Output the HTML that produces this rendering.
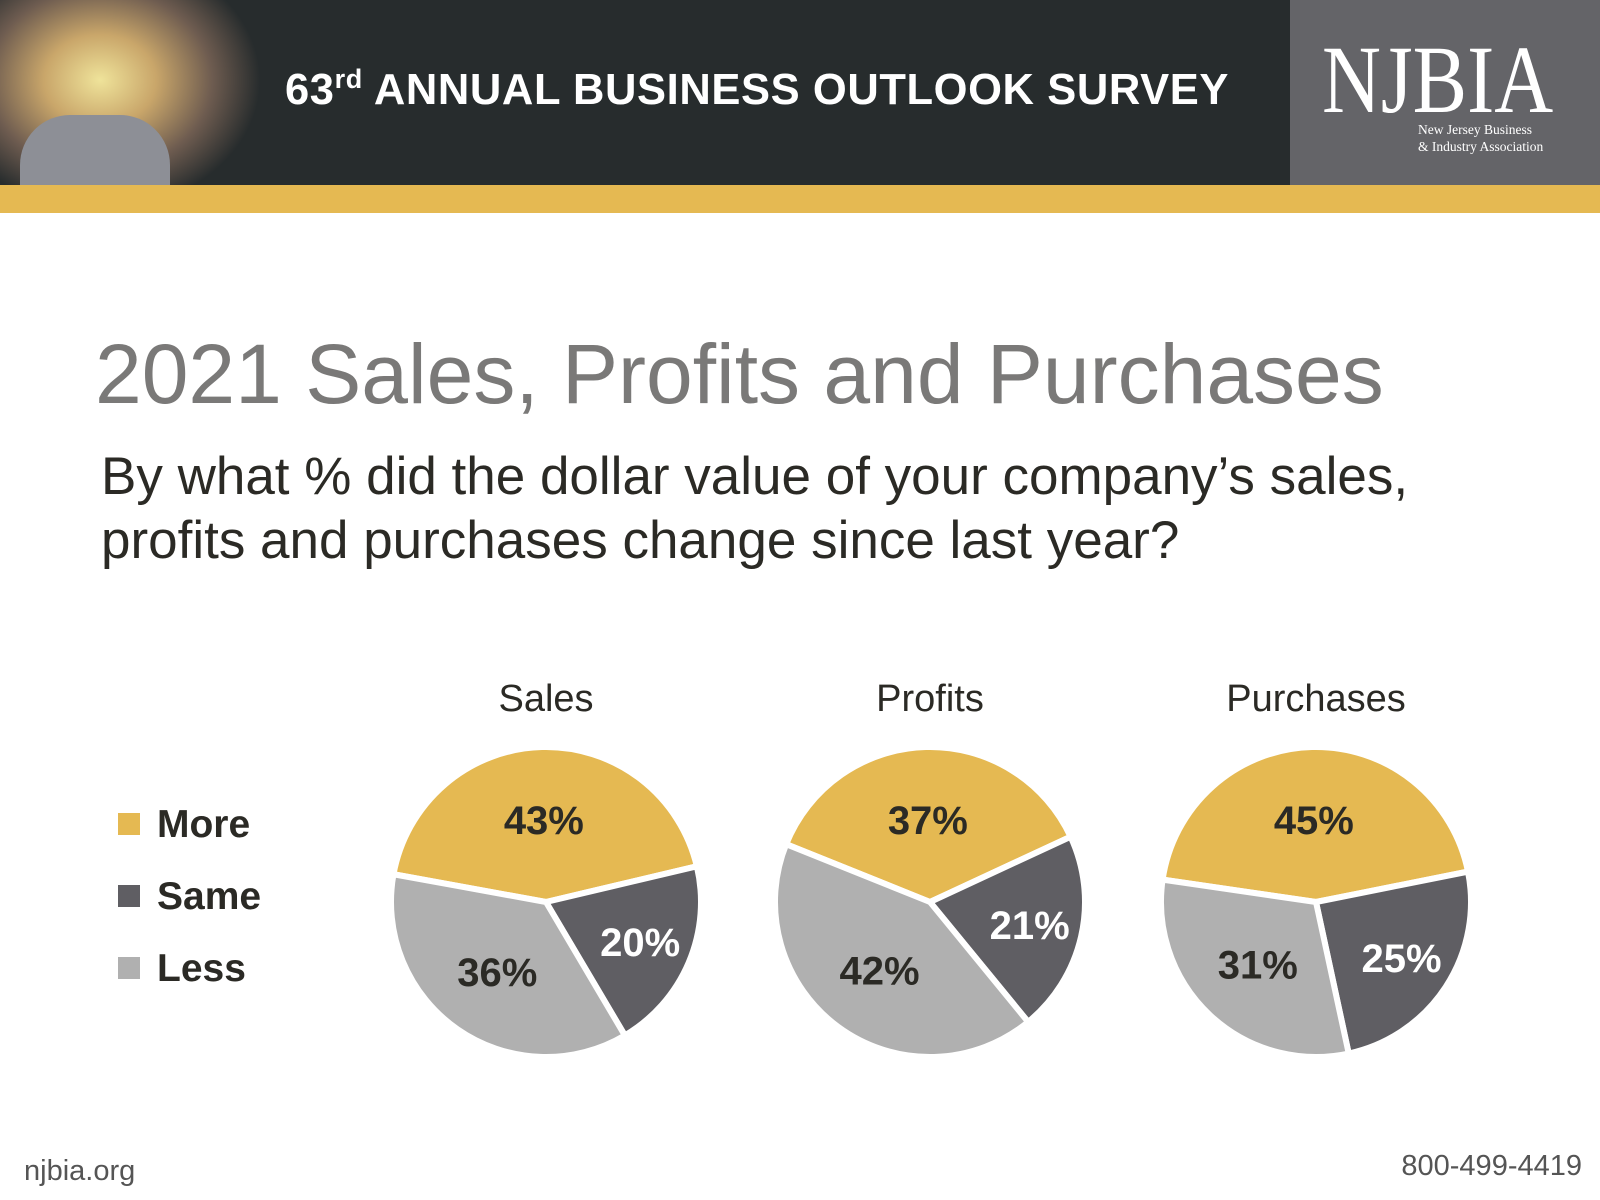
<!DOCTYPE html>
<html><head><meta charset="utf-8"><style>
body{margin:0;width:1600px;height:1200px;background:#fff;position:relative;overflow:hidden;font-family:"Liberation Sans",sans-serif}
.a{position:absolute;white-space:nowrap}
</style></head><body>
<div class="a" style="left:0;top:0;width:1600px;height:185px;background:#272c2d"></div>
<div class="a" style="left:0;top:0;width:330px;height:185px;background:radial-gradient(ellipse 160px 130px at 100px 80px,#efe39a 0%,#c9a66a 35%,#6e5c50 70%,#272c2d 100%)"></div>
<div class="a" style="left:20px;top:115px;width:150px;height:70px;background:#8d8f96;border-radius:50px 50px 0 0"></div>
<div class="a" style="left:1290px;top:0;width:310px;height:185px;background:#646468"></div>
<div class="a" style="left:0;top:185px;width:1600px;height:28px;background:#e5b952"></div>
<div class="a" style="left:285px;top:64px;color:#fff;font-weight:bold;font-size:43.5px;letter-spacing:0.6px">63<sup style="font-size:27px;vertical-align:16px">rd</sup> ANNUAL BUSINESS OUTLOOK SURVEY</div>
<div class="a" style="left:1322px;top:24px;color:#fff;font-family:'Liberation Serif',serif;font-size:96px;transform:scaleX(0.85);transform-origin:left">NJBIA</div>
<div class="a" style="left:1418px;top:121px;color:#fff;font-family:'Liberation Serif',serif;font-size:13.5px;line-height:17px">New Jersey Business<br>&amp; Industry Association</div>
<div class="a" style="left:95px;top:326px;color:#7a7978;font-size:84px">2021 Sales, Profits and Purchases</div>
<div class="a" style="left:101px;top:445px;color:#2b2a25;font-size:53px;line-height:64px">By what % did the dollar value of your company’s sales,<br>profits and purchases change since last year?</div>
<svg class="a" style="left:0;top:0" width="1600" height="1200" id="chart"></svg>
<div class="a" style="left:24px;top:1155px;color:#555;font-size:29px">njbia.org</div>
<div class="a" style="right:18px;top:1150px;color:#555;font-size:29px">800-499-4419</div>
<script>
const charts=["Sales","Profits","Purchases"];
const categories=["More","Same","Less"];
const moreVals=[43,37,45];
const sameVals=[20,21,25];
const lessVals=[36,42,31];
const colors=["#e5b952","#5f5e63","#b0b0b0"];
const textColors=["#2b2a25","#fff","#2b2a25"];
const labelR=[0.53,0.66,0.55];
const NS="http://www.w3.org/2000/svg";
const svg=document.getElementById('chart');
const cxs=[546,930,1316],cy=902,R=155;
function mk(t,a){const e=document.createElementNS(NS,t);for(const k in a)e.setAttribute(k,a[k]);svg.appendChild(e);return e;}
function pt(cx,a,r){const rad=a*Math.PI/180;return [cx+r*Math.sin(rad),cy-r*Math.cos(rad)];}
charts.forEach((name,i)=>{
  const vals=[moreVals[i],sameVals[i],lessVals[i]];
  const tot=vals.reduce((s,v)=>s+v,0);
  const t=mk('text',{x:cxs[i],y:711,'text-anchor':'middle','font-size':38,fill:'#2b2a25'});
  
  
  t.textContent=name;
  let a=-vals[0]/tot*180-1.5;
  vals.forEach((v,j)=>{
    const sw=v/tot*360,b=a+sw;
    const p1=pt(cxs[i],a,R),p2=pt(cxs[i],b,R);
    const p=mk('path',{d:`M${cxs[i]},${cy}L${p1[0]},${p1[1]}A${R},${R} 0 ${sw>180?1:0} 1 ${p2[0]},${p2[1]}Z`,fill:colors[j],stroke:'#fff','stroke-width':6,'stroke-linejoin':'round'});
    
    
    const lp=pt(cxs[i],a+sw/2,R*labelR[j]);
    const l=mk('text',{x:lp[0],y:lp[1]+14,'text-anchor':'middle','font-size':40,'font-weight':'bold',fill:textColors[j]});
    
    
    l.textContent=v+'%';
    a=b;
  });
});
categories.forEach((c,j)=>{
  const y=824+j*72;
  const r=mk('rect',{x:118,y:y-11,width:22,height:22,fill:colors[j]});
  
  
  const t=mk('text',{x:157,y:y+13,'font-size':39,'font-weight':'bold',fill:'#2b2a25'});
  
  
  t.textContent=c;
});
</script>
</body></html>
